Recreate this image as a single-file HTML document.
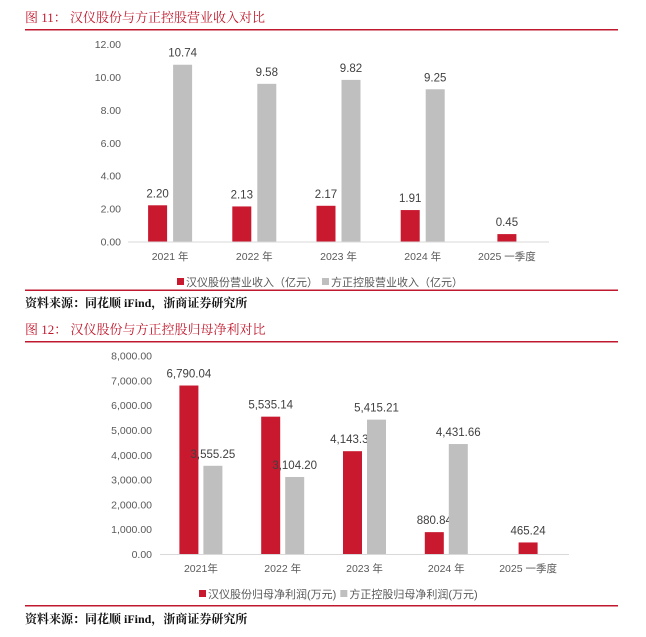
<!DOCTYPE html>
<html><head><meta charset="utf-8">
<style>
body{margin:0;background:#fff;width:646px;height:632px;overflow:hidden}
svg text{font-family:"Liberation Sans","Noto Sans CJK SC",sans-serif}
.t{font-family:"Liberation Serif","Noto Serif CJK SC",serif;fill:#c0182c;font-size:13px}
.s{font-family:"Liberation Serif","Noto Serif CJK SC",serif;fill:#111;font-size:12px;font-weight:bold}
</style></head><body>
<svg id="svg" width="646" height="632">
<text class="t" x="25" y="22">图 11：  汉仪股份与方正控股营业收入对比</text>
<rect x="25" y="29" width="593" height="1.5" fill="#c0182c"/>
<g id="c1"></g>
<rect x="25" y="289.5" width="593" height="1.5" fill="#c0182c"/>
<text class="s" x="25" y="307">资料来源：同花顺 iFind，浙商证券研究所</text>

<text class="t" x="25" y="334">图 12：  汉仪股份与方正控股归母净利对比</text>
<rect x="25" y="341" width="593" height="1.5" fill="#c0182c"/>
<g id="c2"></g>
<rect x="25" y="605" width="593" height="1.5" fill="#c0182c"/>
<text class="s" x="25" y="623">资料来源：同花顺 iFind，浙商证券研究所</text>
</svg>
<script>
const categories1 = ["2021 年","2022 年","2023 年","2024 年","2025 一季度"];
const hanyiRevenue = [2.20,2.13,2.17,1.91,0.45];
const founderRevenue = [10.74,9.58,9.82,9.25,null];
const ticks1 = [0,2,4,6,8,10,12];
const legend1 = ["汉仪股份营业收入（亿元）","方正控股营业收入（亿元）"];

const categories2 = ["2021年","2022 年","2023 年","2024 年","2025 一季度"];
const hanyiProfit = [6790.04,5535.14,4143.30,880.84,465.24];
const founderProfit = [3555.25,3104.20,5415.21,4431.66,null];
const ticks2 = [0,1000,2000,3000,4000,5000,6000,7000,8000];
const legend2 = ["汉仪股份归母净利润(万元)","方正控股归母净利润(万元)"];

const NS="http://www.w3.org/2000/svg";
function mk(g,tag,attrs,txt){const e=document.createElementNS(NS,tag);for(const k in attrs)e.setAttribute(k,attrs[k]);if(txt!=null)e.textContent=txt;g.appendChild(e);return e;}
function fmt2(v){return v.toLocaleString('en-US',{minimumFractionDigits:2,maximumFractionDigits:2});}

function draw(gid,cfg){
  const g=document.getElementById(gid);
  const {x0,x1,yTop,yBase,max,cats,a,b,ticks,legend,labelX,catY,legY,barW,gap,fmtTick,fmtVal,legX}=cfg;
  const y=v=>yBase-(v/max)*(yBase-yTop);
  const band=(x1-x0)/cats.length;
  ticks.forEach(t=>{
    const e=mk(g,'text',{x:labelX,y:y(t)+4,'text-anchor':'end','font-size':'10.5','fill':'#595959'},fmtTick(t));
    
    
  });
  const ax=mk(g,'line',{x1:x0,x2:x1,y1:yBase+0.5,y2:yBase+0.5,stroke:'#d9d9d9','stroke-width':1});
  
  
  cats.forEach((c,i)=>{
    const cx=x0+band*(i+0.5);
    const pairs=[[a[i],'#c8192f',b[i]==null?cx-barW/2:cx-gap/2-barW],[b[i],'#bfbfbf',cx+gap/2]];
    pairs.forEach(([v,col,bx],j)=>{
      if(v==null)return;
      const r=mk(g,'rect',{x:bx,y:y(v),width:barW,height:yBase-y(v),fill:col});
      
      
      const t=mk(g,'text',{x:bx+barW/2,y:y(v)-8,'text-anchor':'middle','font-size':'11.5','fill':'#404040'},fmtVal(v));
      
      
    });
    const cl=mk(g,'text',{x:cx,y:catY,'text-anchor':'middle','font-size':'10.5','fill':'#595959'},c);
    
    
  });
  let lx=legX;
  legend.forEach((l,j)=>{
    const s=mk(g,'rect',{x:lx,y:legY-8,width:7,height:7,fill:j?'#bfbfbf':'#c8192f'});
    
    
    const t=mk(g,'text',{x:lx+9,y:legY,'font-size':'11','fill':'#595959'},l);
    
    
    lx+=t.getComputedTextLength()+13;
  });
}
draw('c1',{x0:128,x1:549,yTop:44,yBase:241.5,max:12,cats:categories1,a:hanyiRevenue,b:founderRevenue,ticks:ticks1,legend:legend1,labelX:121,catY:260,legY:286,barW:19,gap:6,fmtTick:v=>v.toFixed(2),fmtVal:v=>v.toFixed(2),legX:177});
draw('c2',{x0:160,x1:569,yTop:355.5,yBase:554,max:8000,cats:categories2,a:hanyiProfit,b:founderProfit,ticks:ticks2,legend:legend2,labelX:152,catY:572,legY:598,barW:19,gap:5,fmtTick:fmt2,fmtVal:fmt2,legX:199});
</script>
</body></html>
